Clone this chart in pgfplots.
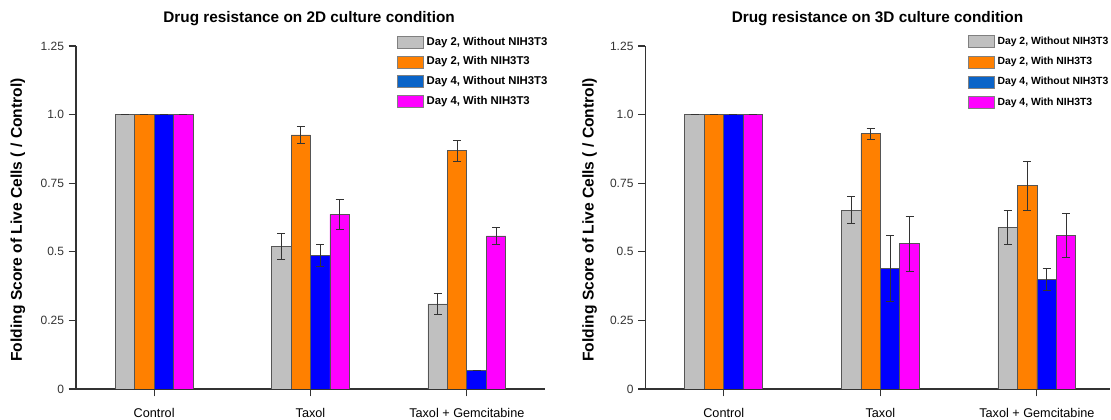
\documentclass[border=0pt]{standalone}
\usepackage{pgfplots}
\pgfplotsset{compat=1.18}
\usepackage{fontspec}
\setmainfont{Liberation Sans}
\definecolor{cgray}{HTML}{C0C0C0}
\definecolor{corange}{HTML}{FF8000}
\definecolor{cblue}{HTML}{0000FF}
\definecolor{cmag}{HTML}{FF00FF}
\definecolor{legblue}{HTML}{0A64C8}
\definecolor{edge}{HTML}{555555}
\definecolor{axcol}{HTML}{333333}
\pgfplotsset{
  panel/.style={
    scale only axis,
    height=257.25pt,
    ymin=0, ymax=1.25,
    ytick={0,0.25,0.5,0.75,1.0,1.25},
    yticklabels={0,0.25,0.5,0.75,1.0,1.25},
    xtick={0,1,2},
    xticklabels={Control,Taxol,Taxol + Gemcitabine},
    axis x line*=bottom, axis y line*=left,
    axis line style={axcol, line width=0.8pt, -},
    tick style={axcol, line width=0.8pt},
    tick align=outside,
    major tick length=5.5pt,
    ybar=0pt, bar width=14.6pt,
    xticklabel style={font=\fontsize{9.5}{10}\selectfont, text=black, yshift=-5.5pt},
    yticklabel style={font=\fontsize{9}{10}\selectfont, text=axcol},
    ylabel={Folding Score of Live Cells ( / Control)},
    ylabel style={font=\bfseries\fontsize{11.7}{13}\selectfont, anchor=center},
    title style={font=\bfseries\fontsize{11.5}{13}\selectfont, anchor=base, yshift=0pt},
    legend image code/.code={\draw[#1, draw=gray, line width=0.5pt] (0pt,-4.5pt) rectangle (20pt,4.5pt);},
    legend style={draw=none, fill=none, anchor=north west, inner sep=0pt,
      font=\bfseries\fontsize{8.5}{10}\selectfont, row sep=3.2pt,
      nodes={inner sep=2pt}},
    legend cell align=left,
    every axis plot/.append style={draw=edge, line width=0.5pt,
      error bars/y dir=both, error bars/y explicit,
      error bars/error bar style={axcol, line width=0.5pt},
      error bars/error mark options={rotate=90, mark size=3pt, axcol, line width=0.5pt}},
  }
}
\begin{document}
\begin{tikzpicture}
\useasboundingbox (0,0) rectangle (833.25pt,315pt);
% ---------------- 2D ----------------
\begin{axis}[panel,
  at={(57pt,23.25pt)}, anchor=south west,
  width=351.75pt, xmin=-0.5, xmax=2.5,
  title={Drug resistance on 2D culture condition},
  title style={at={(axis description cs:0.497,1.044)}},
  ylabel style={at={(axis description cs:-0.124,0.493)}},
  legend style={at={(axis description cs:0.683,1.035)}},
]
\addplot[fill=cgray] coordinates {(0,1) +- (0,0) (1,0.52) +- (0,0.046) (2,0.31) +- (0,0.037)};
\addplot[fill=corange] coordinates {(0,1) +- (0,0) (1,0.926) +- (0,0.032) (2,0.869) +- (0,0.038)};
\addplot[fill=cblue, legend image post style={fill=legblue}] coordinates {(0,1) +- (0,0) (1,0.487) +- (0,0.039) (2,0.067) +- (0,0)};
\addplot[fill=cmag] coordinates {(0,1) +- (0,0) (1,0.636) +- (0,0.054) (2,0.558) +- (0,0.031)};
\legend{{Day 2, Without NIH3T3}, {Day 2, With NIH3T3}, {Day 4, Without NIH3T3}, {Day 4, With NIH3T3}}
\end{axis}
% ---------------- 3D ----------------
\begin{axis}[panel,
  at={(484.1pt,23.25pt)}, anchor=south west,
  width=348.75pt, xmin=-0.5, xmax=2.47,
  title={Drug resistance on 3D culture condition},
  title style={at={(axis description cs:0.499,1.044)}},
  ylabel style={at={(axis description cs:-0.12,0.493)}},
  legend style={at={(axis description cs:0.692,1.035)}, font=\bfseries\fontsize{7.8}{9}\selectfont, row sep=4pt},
]
\addplot[fill=cgray] coordinates {(0,1) +- (0,0) (1,0.652) +- (0,0.049) (2,0.59) +- (0,0.062)};
\addplot[fill=corange] coordinates {(0,1) +- (0,0) (1,0.93) +- (0,0.021) (2,0.741) +- (0,0.09)};
\addplot[fill=cblue, legend image post style={fill=legblue}] coordinates {(0,1) +- (0,0) (1,0.439) +- (0,0.12) (2,0.399) +- (0,0.04)};
\addplot[fill=cmag] coordinates {(0,1) +- (0,0) (1,0.53) +- (0,0.10) (2,0.561) +- (0,0.08)};
\legend{{Day 2, Without NIH3T3}, {Day 2, With NIH3T3}, {Day 4, Without NIH3T3}, {Day 4, With NIH3T3}}
\end{axis}
\end{tikzpicture}
\end{document}
